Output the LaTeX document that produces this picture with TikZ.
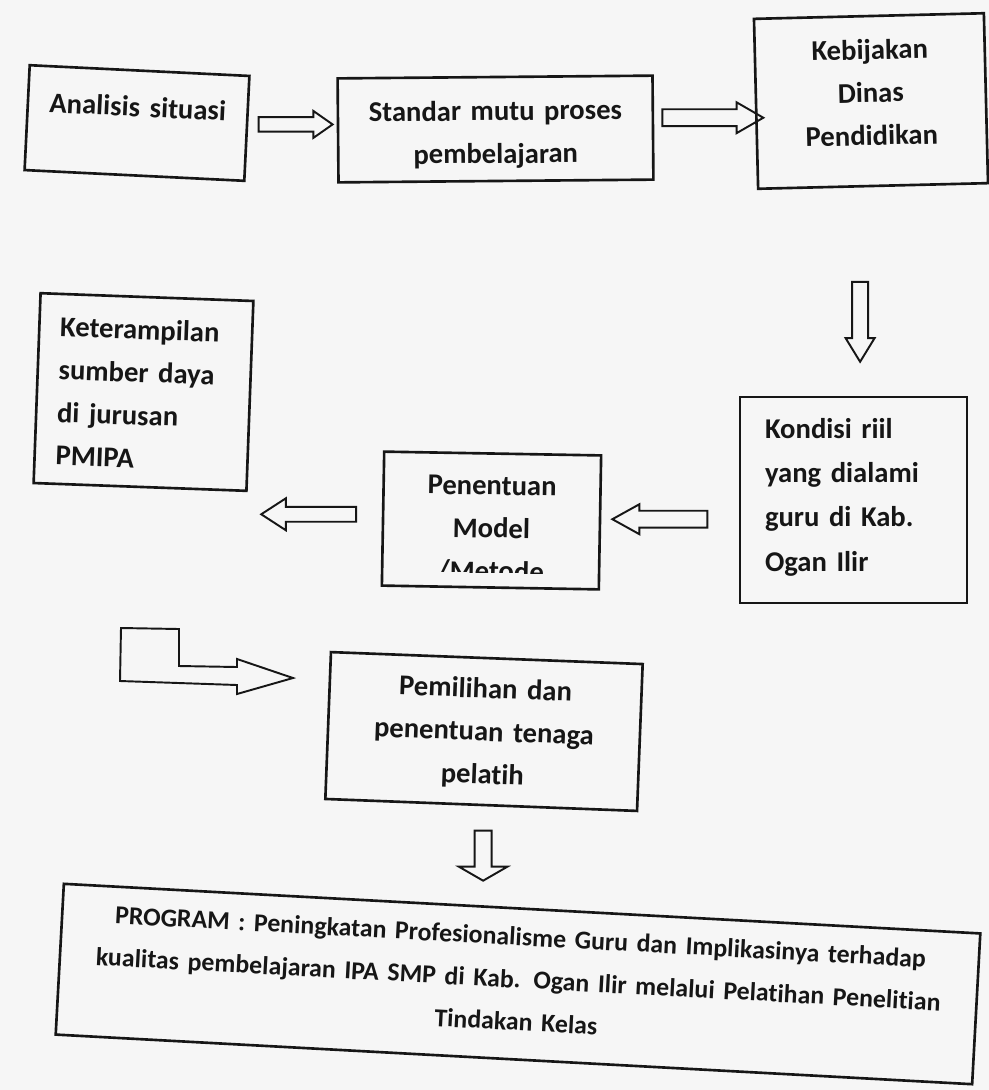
\documentclass[tikz,border=0pt]{standalone}
\usepackage{fontspec}
\setmainfont{Carlito}[Ligatures=NoCommon]
\usetikzlibrary{shapes.arrows, calc}
\definecolor{inkline}{RGB}{22,22,22}
\definecolor{paper}{RGB}{246,246,246}
\newcommand{\boxfont}{\fontsize{16.3}{24.4}\selectfont\bfseries}
\newcommand{\progfont}{\fontsize{14.7}{24.2}\selectfont\bfseries}
\tikzset{
  stepbox/.style={draw=inkline, line width=1.5pt, inner sep=0pt, align=center, font=\boxfont, text=inkline},
  leftbox/.style={stepbox, align=left},
  blockarrow/.style={draw=inkline, line width=1.1pt, single arrow, single arrow head indent=0pt, inner xsep=0pt, text height=0pt, text depth=0pt},
  bentarrow/.style={draw=inkline, line width=1.1pt, line join=miter}
}

\begin{document}
\begin{tikzpicture}[x=0.02cm, y=-0.02cm]
  \fill[paper] (0,0) rectangle (989,1090);
  \useasboundingbox (0,0) rectangle (989,1090);

  % top row
  \node[stepbox, text width=4.4cm, text height=0.92cm, text depth=1.18cm, rotate=-2.8] (ana) at (137,123) {Analisis situasi};
  \node[stepbox, text width=6.3cm, text height=0.87cm, text depth=1.21cm, rotate=0.5] (std) at (495.5,129) {Standar mutu proses\\pembelajaran};
  \node[stepbox, text width=4.6cm, text height=0.87cm, text depth=2.53cm, rotate=1.4] (keb) at (871,101) {Kebijakan\\Dinas\\Pendidikan};

  % middle row
  \node[leftbox, inner xsep=0.42cm, text width=3.42cm, text height=0.85cm, text depth=2.95cm, rotate=-2.1] (ket) at (143.5,392) {Keterampilan\\sumber daya\\di jurusan\\PMIPA};
  \node[leftbox, font=\fontsize{16.3}{25.3}\selectfont\bfseries, inner xsep=0.5cm, text width=3.54cm, text height=0.82cm, text depth=3.3cm] (kon) at (853.5,500) {Kondisi riil\\yang dialami\\guru di Kab.\\Ogan Ilir};
  \node[stepbox, text width=4.34cm, text height=0.83cm, text depth=1.85cm, rotate=-1] (pen) at (491.5,520.5) {};
  \begin{scope}
    \clip (pen.north west) -- (pen.north east) -- ($(pen.south east)!0.12!(pen.north east)$) -- ($(pen.south west)!0.12!(pen.north west)$) -- cycle;
    \node[stepbox, draw=none, text width=4.34cm, text height=0.83cm, text depth=1.85cm, rotate=-1] (pentxt) at (pen.center) {Penentuan\\Model\\/Metode};
  \end{scope}

  % lower part
  \node[stepbox, text width=6.24cm, text height=0.8cm, text depth=2.14cm, rotate=-2.2] (pem) at (484,731.5) {Pemilihan dan\\penentuan tenaga\\pelatih};
  \node[stepbox, font=\progfont, text width=18.36cm, text height=0.74cm, text depth=2.28cm, rotate=-3.1] (prog) at (518,984) {PROGRAM : Peningkatan Profesionalisme Guru dan Implikasinya terhadap\\kualitas pembelajaran IPA SMP di Kab. Ogan Ilir melalui Pelatihan Penelitian\\Tindakan Kelas};

  % block arrows
  \node[blockarrow, minimum height=1.48cm, inner ysep=0.126cm, single arrow head extend=0.124cm, single arrow tip angle=70] (a1) at ($(ana.east)!.5!(std.west)+(-2,-5)$) {};
  \node[blockarrow, minimum height=2.02cm, inner ysep=0.15cm, single arrow head extend=0.14cm, single arrow tip angle=60] (a2) at ($(std.east)!.5!(keb.west)+(1,2)$) {};
  \node[blockarrow, minimum height=1.6cm, inner ysep=0.14cm, single arrow head extend=0.13cm, single arrow tip angle=63, rotate=-90] (a3) at ($(keb.south)+(-13,128)$) {};
  \node[blockarrow, minimum height=1.9cm, inner ysep=0.15cm, single arrow head extend=0.13cm, single arrow tip angle=58, shape border rotate=180] (a4) at ($(kon.west)!.5!(pen.east)+(-2.5,8)$) {};
  \node[blockarrow, minimum height=1.9cm, inner ysep=0.13cm, single arrow head extend=0.17cm, single arrow tip angle=66, shape border rotate=180] (a5) at ($(pen.west)!.5!(ket.east)+(-2,57)$) {};
  \node[blockarrow, minimum height=1.0cm, inner ysep=0.15cm, single arrow head extend=0.32cm, single arrow tip angle=120, rotate=-90] (a6) at ($(pem.south)+(2,47)$) {};

  % bent arrow towards the trainer box
  \draw[bentarrow] (121,628) -- (179,629) -- (179,666) -- (237,667) -- (237,659) -- (293,678) -- (237,694) -- (237,685) -- (120,681) -- cycle;
\end{tikzpicture}
\end{document}
